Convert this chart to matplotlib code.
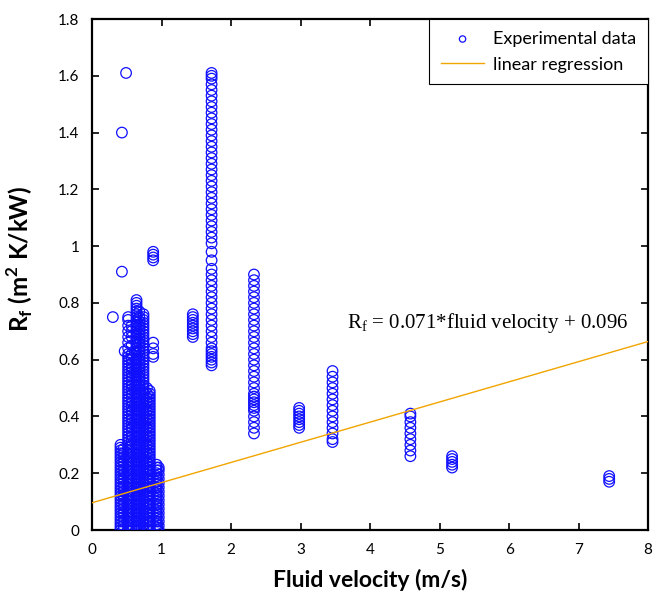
import matplotlib
matplotlib.use("Agg")
import matplotlib.pyplot as plt
from matplotlib.ticker import FuncFormatter, MultipleLocator

plt.rcParams['mathtext.fontset'] = 'custom'
plt.rcParams['mathtext.rm'] = 'Liberation Serif'
plt.rcParams['mathtext.bf'] = 'Lato:bold'
plt.rcParams['mathtext.sf'] = 'Lato'

# ---- data (velocity in m/s, Rf in m2K/kW) ----
single_v = [0.30, 0.43, 0.49, 0.43, 0.47]
single_rf = [0.75, 1.40, 1.61, 0.91, 0.63]

col_041 = [0.00, 0.01, 0.02, 0.03, 0.04, 0.05, 0.06, 0.07, 0.08, 0.09, 0.10, 0.11, 0.12,
           0.13, 0.14, 0.15, 0.16, 0.17, 0.18, 0.19, 0.20, 0.21, 0.22, 0.23, 0.24, 0.25,
           0.26, 0.27, 0.28, 0.29, 0.30]
col_045 = [0.00, 0.015, 0.03, 0.045, 0.06, 0.075, 0.09, 0.105, 0.12, 0.135, 0.15, 0.165,
           0.18, 0.195, 0.21, 0.225, 0.24, 0.255, 0.27, 0.285]
col_052 = [0.00, 0.01, 0.02, 0.03, 0.04, 0.05, 0.06, 0.07, 0.08, 0.09, 0.10, 0.11, 0.12,
           0.13, 0.14, 0.15, 0.16, 0.17, 0.18, 0.19, 0.20, 0.21, 0.22, 0.23, 0.24, 0.25,
           0.26, 0.27, 0.28, 0.29, 0.30, 0.31, 0.32, 0.33, 0.34, 0.35, 0.36, 0.37, 0.38,
           0.39, 0.40, 0.41, 0.42, 0.43, 0.44, 0.45, 0.46, 0.47, 0.48, 0.49, 0.50, 0.51,
           0.52, 0.53, 0.54, 0.55, 0.56, 0.57, 0.58, 0.59, 0.60, 0.61, 0.62, 0.64, 0.66,
           0.68, 0.70, 0.72, 0.74, 0.75]
col_057 = [0.00, 0.015, 0.03, 0.045, 0.06, 0.075, 0.09, 0.105, 0.12, 0.135, 0.15, 0.165,
           0.18, 0.195, 0.21, 0.225, 0.24, 0.255, 0.27, 0.285, 0.30, 0.315, 0.33, 0.345,
           0.36, 0.375, 0.39, 0.405, 0.42, 0.435, 0.45, 0.465, 0.48, 0.495, 0.51, 0.525,
           0.54, 0.555, 0.57, 0.585, 0.60, 0.62, 0.65, 0.68, 0.70, 0.72]
col_064 = [0.00, 0.01, 0.02, 0.03, 0.04, 0.05, 0.06, 0.07, 0.08, 0.09, 0.10, 0.11, 0.12,
           0.13, 0.14, 0.15, 0.16, 0.17, 0.18, 0.19, 0.20, 0.21, 0.22, 0.23, 0.24, 0.25,
           0.26, 0.27, 0.28, 0.29, 0.30, 0.31, 0.32, 0.33, 0.34, 0.35, 0.36, 0.37, 0.38,
           0.39, 0.40, 0.41, 0.42, 0.43, 0.44, 0.45, 0.46, 0.47, 0.48, 0.49, 0.50, 0.51,
           0.52, 0.53, 0.54, 0.55, 0.56, 0.57, 0.58, 0.59, 0.60, 0.61, 0.62, 0.63, 0.64,
           0.65, 0.66, 0.67, 0.68, 0.69, 0.70, 0.71, 0.72, 0.73, 0.74, 0.75, 0.76, 0.77,
           0.78, 0.79, 0.80, 0.81]
col_068 = [0.00, 0.015, 0.03, 0.045, 0.06, 0.075, 0.09, 0.105, 0.12, 0.135, 0.15, 0.165,
           0.18, 0.195, 0.21, 0.225, 0.24, 0.255, 0.27, 0.285, 0.30, 0.315, 0.33, 0.345,
           0.36, 0.375, 0.39, 0.405, 0.42, 0.435, 0.45, 0.465, 0.48, 0.495, 0.51, 0.525,
           0.54, 0.555, 0.57, 0.585, 0.60, 0.615, 0.63, 0.645, 0.66, 0.675, 0.69, 0.705,
           0.72, 0.735, 0.75, 0.77]
col_074 = [0.00, 0.01, 0.02, 0.03, 0.04, 0.05, 0.06, 0.07, 0.08, 0.09, 0.10, 0.11, 0.12,
           0.13, 0.14, 0.15, 0.16, 0.17, 0.18, 0.19, 0.20, 0.21, 0.22, 0.23, 0.24, 0.25,
           0.26, 0.27, 0.28, 0.29, 0.30, 0.31, 0.32, 0.33, 0.34, 0.35, 0.36, 0.37, 0.38,
           0.39, 0.40, 0.41, 0.42, 0.43, 0.44, 0.45, 0.46, 0.47, 0.48, 0.49, 0.50, 0.51,
           0.52, 0.53, 0.54, 0.55, 0.56, 0.57, 0.58, 0.59, 0.60, 0.61, 0.62, 0.63, 0.64,
           0.65, 0.66, 0.67, 0.68, 0.69, 0.70, 0.71, 0.72, 0.73, 0.74, 0.75, 0.76]
col_079 = [0.00, 0.015, 0.03, 0.045, 0.06, 0.075, 0.09, 0.105, 0.12, 0.135, 0.15, 0.165,
           0.18, 0.195, 0.21, 0.225, 0.24, 0.255, 0.27, 0.285, 0.30, 0.315, 0.33, 0.345,
           0.36, 0.375, 0.39, 0.405, 0.42, 0.435, 0.45, 0.465, 0.48, 0.50]
col_083 = [0.00, 0.01, 0.02, 0.03, 0.04, 0.05, 0.06, 0.07, 0.08, 0.09, 0.10, 0.11, 0.12,
           0.13, 0.14, 0.15, 0.16, 0.17, 0.18, 0.19, 0.20, 0.21, 0.22, 0.23, 0.24, 0.25,
           0.26, 0.27, 0.28, 0.29, 0.30, 0.31, 0.32, 0.33, 0.34, 0.35, 0.36, 0.37, 0.38,
           0.39, 0.40, 0.41, 0.42, 0.43, 0.44, 0.45, 0.46, 0.47, 0.48, 0.49]
col_088 = [0.61, 0.62, 0.64, 0.66, 0.95, 0.96, 0.97, 0.98]
col_093 = [0.00, 0.01, 0.02, 0.03, 0.04, 0.05, 0.06, 0.07, 0.08, 0.09, 0.10, 0.11, 0.12,
           0.13, 0.14, 0.15, 0.16, 0.17, 0.18, 0.19, 0.20, 0.21, 0.22, 0.23]
col_096 = [0.00, 0.015, 0.03, 0.045, 0.06, 0.075, 0.09, 0.105, 0.12, 0.135, 0.15, 0.165,
           0.18, 0.195, 0.21, 0.22]
col_145 = [0.68, 0.69, 0.70, 0.71, 0.72, 0.73, 0.74, 0.75, 0.76]
col_172 = [0.58, 0.59, 0.60, 0.61, 0.62, 0.63, 0.64, 0.66, 0.68, 0.70, 0.72, 0.74, 0.76,
           0.78, 0.80, 0.82, 0.84, 0.86, 0.88, 0.90, 0.92, 0.95, 0.98, 1.01, 1.03, 1.05,
           1.07, 1.09, 1.11, 1.13, 1.15, 1.17, 1.19, 1.21, 1.23, 1.25, 1.27, 1.29, 1.31,
           1.33, 1.35, 1.37, 1.39, 1.41, 1.43, 1.45, 1.47, 1.49, 1.51, 1.53, 1.55, 1.57,
           1.59, 1.60, 1.61]
col_233 = [0.34, 0.36, 0.38, 0.40, 0.42, 0.43, 0.44, 0.45, 0.46, 0.47, 0.48, 0.50, 0.52,
           0.54, 0.56, 0.58, 0.60, 0.62, 0.64, 0.66, 0.68, 0.70, 0.72, 0.74, 0.76, 0.78,
           0.80, 0.82, 0.84, 0.86, 0.88, 0.90]
col_298 = [0.36, 0.37, 0.38, 0.39, 0.40, 0.41, 0.42, 0.43]
col_346 = [0.31, 0.32, 0.34, 0.36, 0.38, 0.40, 0.42, 0.44, 0.46, 0.48, 0.50, 0.52, 0.54, 0.56]
col_458 = [0.26, 0.28, 0.30, 0.32, 0.34, 0.36, 0.38, 0.40, 0.41]
col_518 = [0.22, 0.23, 0.24, 0.25, 0.26]
col_744 = [0.17, 0.18, 0.19]

columns = [(0.41, col_041), (0.45, col_045), (0.52, col_052), (0.57, col_057),
           (0.64, col_064), (0.68, col_068), (0.74, col_074), (0.79, col_079),
           (0.83, col_083), (0.88, col_088), (0.93, col_093), (0.96, col_096),
           (1.45, col_145), (1.72, col_172), (2.33, col_233), (2.98, col_298),
           (3.46, col_346), (4.58, col_458), (5.18, col_518), (7.44, col_744)]

slope, intercept = 0.071, 0.096
line_x = [0, 8]

xs = list(single_v)
ys = list(single_rf)
for v, vals in columns:
    xs += [v] * len(vals)
    ys += vals

fig = plt.figure(figsize=(6.54, 5.98), dpi=100)
ax = fig.add_axes([0.1407, 0.1137, 0.8503, 0.8545])

ax.scatter(xs, ys, s=58, facecolors='none', edgecolors='#1010ff', linewidths=0.9,
           label='Experimental data', zorder=3)
ax.plot(line_x, [slope * x + intercept for x in line_x], color='#F0A500', lw=1.0,
        label='linear regression', zorder=4)

ax.set_xlim(0, 8)
ax.set_ylim(0, 1.8)
ax.xaxis.set_major_locator(MultipleLocator(1))
ax.yaxis.set_major_locator(MultipleLocator(0.2))
ax.yaxis.set_major_formatter(FuncFormatter(lambda v, p: f'{v:g}'))
ax.tick_params(direction='in', top=True, right=True, length=5, width=1.2,
               labelsize=11, pad=9)
for lab in ax.get_xticklabels() + ax.get_yticklabels():
    lab.set_fontfamily('Lato')
for s in ax.spines.values():
    s.set_linewidth(1.6)

ax.set_xlabel('Fluid velocity (m/s)', fontfamily='Lato', fontweight='bold', fontsize=16.5,
              labelpad=9)
ax.set_ylabel(r'$\mathbf{R_f}$ (m$^{\mathbf{2}}$ K/kW)', fontfamily='Lato',
              fontweight='bold', fontsize=17.5)
ax.yaxis.set_label_coords(-0.102, 0.53)

ax.text(3.67, 0.71, r'$\mathrm{R_f}$ = 0.071*fluid velocity + 0.096',
        fontfamily='Liberation Serif', fontsize=15)

leg = ax.legend(loc='upper right', borderaxespad=0, fancybox=False, framealpha=1,
                edgecolor='black', prop={'family': 'Lato', 'size': 13},
                handlelength=2.4, handletextpad=0.5, markerscale=0.6,
                borderpad=0.65, labelspacing=0.55)
leg.get_frame().set_linewidth(0.8)

fig.savefig('out.png', dpi=100)
